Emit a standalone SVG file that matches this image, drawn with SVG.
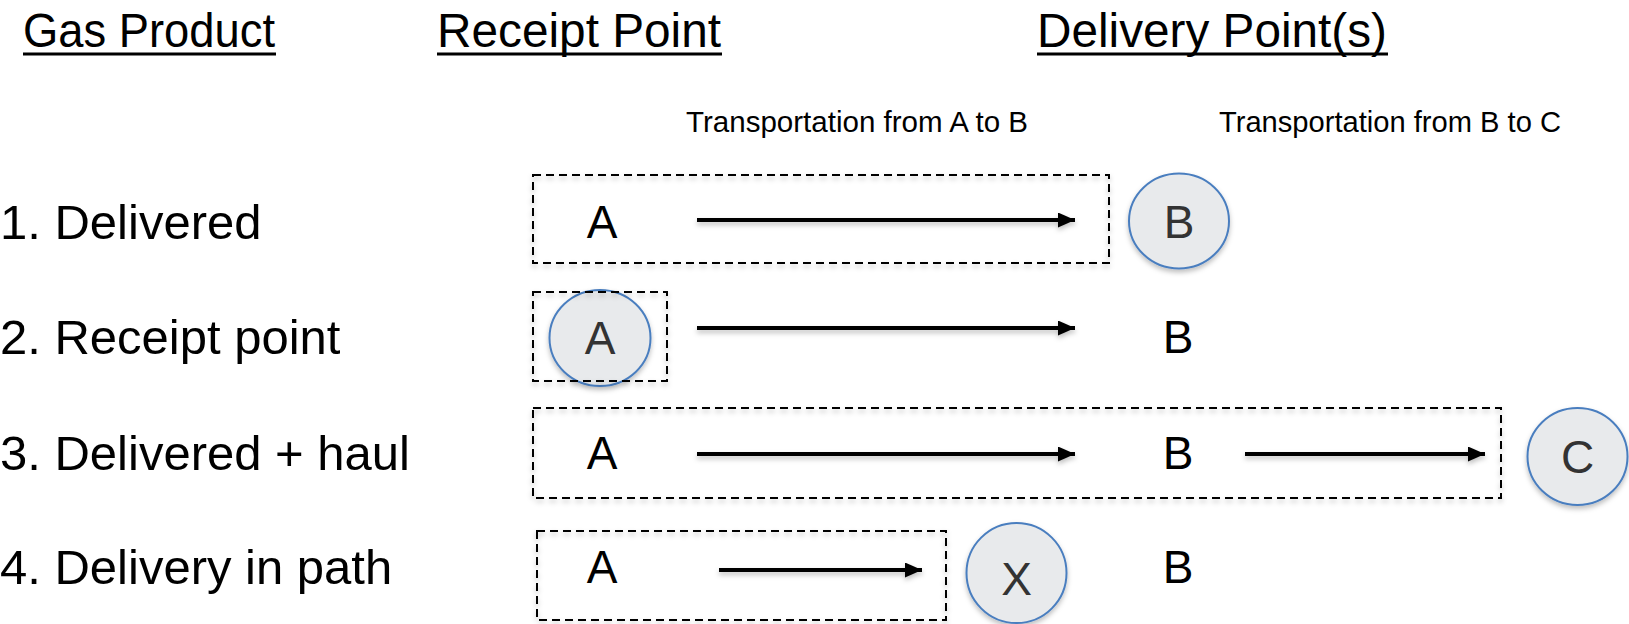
<svg xmlns="http://www.w3.org/2000/svg" width="1629" height="624" viewBox="0 0 1629 624">
<style>
  text { font-family: "Liberation Sans", Arial, Helvetica, sans-serif; }
  .hdr { font-size: 48px; fill: #000; }
  .row { font-size: 49px; fill: #000; }
  .pt { font-size: 46px; fill: #000; text-anchor: middle; }
  .ct { font-size: 46px; fill: #333333; text-anchor: middle; }
  .small { font-size: 29.5px; fill: #000; }
  .ul { stroke: #000; stroke-width: 3; }
  .box { fill: none; stroke: #000; stroke-width: 2; stroke-dasharray: 8 5; }
  .circ { fill: #e8eaec; stroke: #4a7ebf; stroke-width: 2; }
  .arr { stroke: #000; stroke-width: 4; fill: none; }
</style>
<defs>
  <marker id="ah" markerUnits="userSpaceOnUse" markerWidth="18" markerHeight="16" refX="17" refY="7.5" orient="auto">
    <path d="M0,0 L17,7.5 L0,15 z" fill="#000"/>
  </marker>
  <filter id="sh" x="-20%" y="-20%" width="140%" height="160%">
    <feDropShadow dx="0" dy="3" stdDeviation="2.5" flood-color="#000" flood-opacity="0.25"/>
  </filter>
</defs>

<g id="headers">
  <g id="hdr-gas">
    <text class="hdr" x="23" y="47" textLength="252" lengthAdjust="spacingAndGlyphs">Gas Product</text>
    <line class="ul" x1="23" y1="54" x2="276" y2="54"/>
  </g>
  <g id="hdr-receipt">
    <text class="hdr" x="437" y="47" textLength="284" lengthAdjust="spacingAndGlyphs">Receipt Point</text>
    <line class="ul" x1="437" y1="54" x2="722" y2="54"/>
  </g>
  <g id="hdr-delivery">
    <text class="hdr" x="1037" y="47" textLength="350" lengthAdjust="spacingAndGlyphs">Delivery Point(s)</text>
    <line class="ul" x1="1037" y1="54" x2="1388" y2="54"/>
  </g>
  <text id="lbl-ab" class="small" x="686" y="132" textLength="342" lengthAdjust="spacingAndGlyphs">Transportation from A to B</text>
  <text id="lbl-bc" class="small" x="1219" y="132" textLength="342" lengthAdjust="spacingAndGlyphs">Transportation from B to C</text>
</g>

<g id="row-labels">
  <text id="row1" class="row" x="0" y="239">1. Delivered</text>
  <text id="row2" class="row" x="0" y="354">2. Receipt point</text>
  <text id="row3" class="row" x="0" y="470">3. Delivered + haul</text>
  <text id="row4" class="row" x="0" y="584">4. Delivery in path</text>
</g>

<g id="boxes">
  <rect id="box1" class="box" x="533" y="175" width="576" height="88" filter="url(#sh)"/>
  <rect id="box3" class="box" x="533" y="408" width="968" height="90" filter="url(#sh)"/>
  <rect id="box4" class="box" x="537" y="531" width="409" height="89" filter="url(#sh)"/>
</g>

<g id="row1-nodes">
  <g id="r1-A"><text class="pt" x="602" y="238">A</text></g>
  <g id="r1-B">
    <ellipse class="circ" cx="1179" cy="221" rx="50" ry="47.5" filter="url(#sh)"/>
    <text class="ct" x="1179" y="238">B</text>
  </g>
</g>

<g id="row2-nodes">
  <g id="r2-A">
    <ellipse class="circ" cx="600" cy="338" rx="50.5" ry="48" filter="url(#sh)"/>
    <text class="ct" x="600" y="354">A</text>
  </g>
  <rect id="box2" class="box" x="533" y="292" width="134" height="89" filter="url(#sh)"/>
  <g id="r2-B"><text class="pt" x="1178" y="353">B</text></g>
</g>

<g id="row3-nodes">
  <g id="r3-A"><text class="pt" x="602" y="469">A</text></g>
  <g id="r3-B"><text class="pt" x="1178" y="469">B</text></g>
  <g id="r3-C">
    <ellipse class="circ" cx="1577.5" cy="456.5" rx="50" ry="48.5" filter="url(#sh)"/>
    <text class="ct" x="1577.5" y="473">C</text>
  </g>
</g>

<g id="row4-nodes">
  <g id="r4-A"><text class="pt" x="602" y="583">A</text></g>
  <g id="r4-X">
    <ellipse class="circ" cx="1016.5" cy="573" rx="50" ry="50" filter="url(#sh)"/>
    <text class="ct" x="1016.5" y="595">X</text>
  </g>
  <g id="r4-B"><text class="pt" x="1178" y="583">B</text></g>
</g>

<g id="connectors" filter="url(#sh)">
  <line class="arr" x1="697" y1="220" x2="1075" y2="220" marker-end="url(#ah)"/>
  <line class="arr" x1="697" y1="328" x2="1075" y2="328" marker-end="url(#ah)"/>
  <line class="arr" x1="697" y1="454" x2="1075" y2="454" marker-end="url(#ah)"/>
  <line class="arr" x1="1245" y1="454" x2="1485" y2="454" marker-end="url(#ah)"/>
  <line class="arr" x1="719" y1="570" x2="922" y2="570" marker-end="url(#ah)"/>
</g>
</svg>
